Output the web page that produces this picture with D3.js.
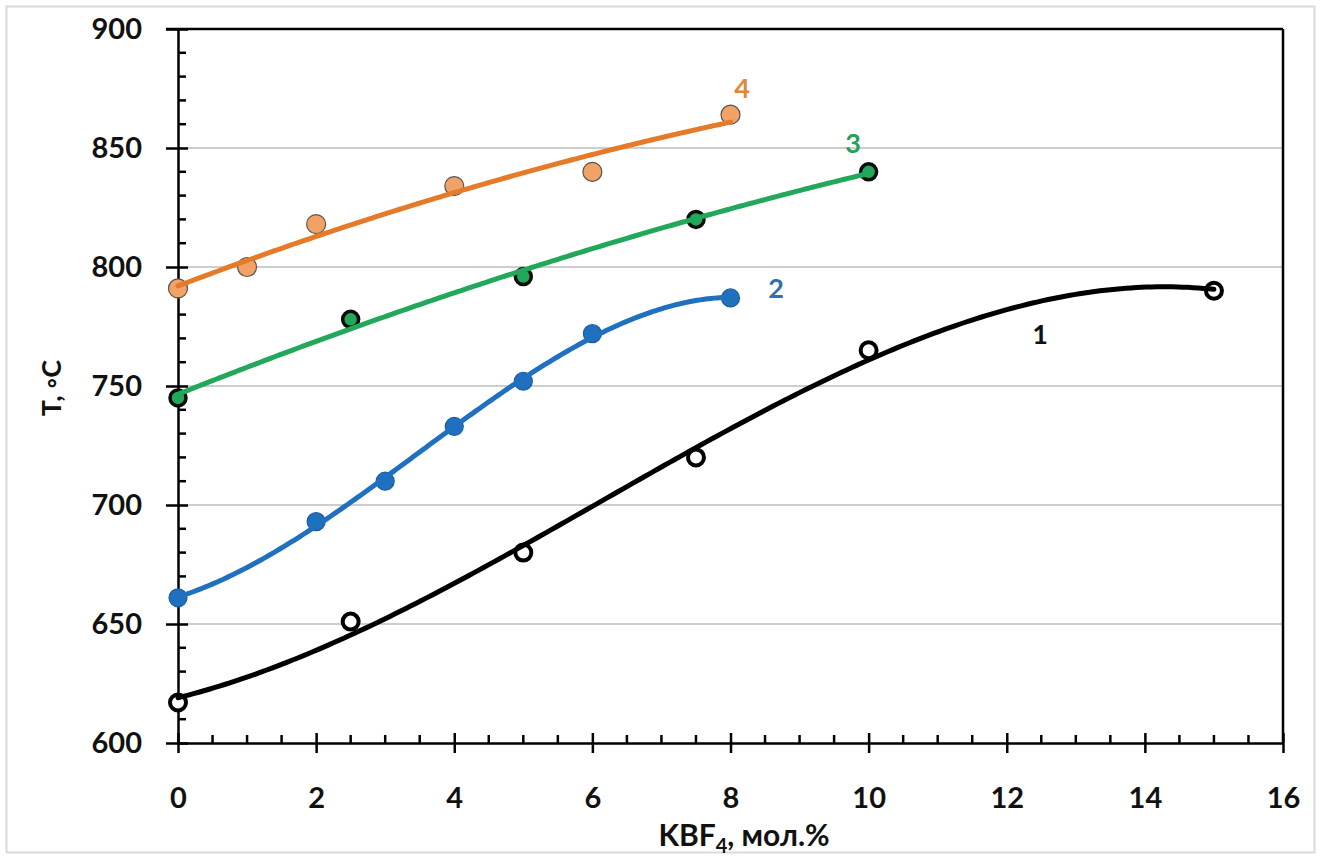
<!DOCTYPE html>
<html>
<head>
<meta charset="utf-8">
<script src="https://cdn.jsdelivr.net/npm/d3@7"></script>
<style>
  html, body { margin: 0; padding: 0; background: #fff; }
  svg { display: block; }
  text { font-family: Lato, "Open Sans", "DejaVu Sans", sans-serif; }
</style>
</head>
<body>
<svg id="chart" width="1322" height="857"></svg>
<script>
// Liquidus temperature vs KBF4 content, four melt compositions
const xSeries1 = [0, 2.5, 5, 7.5, 10, 15];
const tSeries1 = [617, 651, 680, 720, 765, 790];

const xSeries2 = [0, 2, 3, 4, 5, 6, 8];
const tSeries2 = [661, 693, 710, 733, 752, 772, 787];

const xSeries3 = [0, 2.5, 5, 7.5, 10];
const tSeries3 = [745, 778, 796, 820, 840];

const xSeries4 = [0, 1, 2, 4, 6, 8];
const tSeries4 = [791, 800, 818, 834, 840, 864];

const xTicks = [0, 2, 4, 6, 8, 10, 12, 14, 16];
const yTicks = [600, 650, 700, 750, 800, 850, 900];

const series = [
  { id: "1", xs: xSeries1, ts: tSeries1, degree: 3, line: "#000000", fill: "#ffffff", stroke: "#000000", sw: 4, r: 8, label: "#111111", lx: 1040, ly: 334 },
  { id: "2", xs: xSeries2, ts: tSeries2, degree: 3, line: "#1f70bf", fill: "#1f70bf", stroke: "#1a5d9e", sw: 1.2, r: 9, label: "#2e6fae", lx: 776, ly: 288 },
  { id: "3", xs: xSeries3, ts: tSeries3, degree: 2, line: "#22a85a", fill: "#22a85a", stroke: "#0d0d0d", sw: 3.5, r: 8, label: "#22a35b", lx: 853, ly: 143 },
  { id: "4", xs: xSeries4, ts: tSeries4, degree: 2, line: "#e57a28", fill: "#f2a266", stroke: "#555555", sw: 1.2, r: 9.5, label: "#e0883a", lx: 742, ly: 88 }
];

// least-squares polynomial trend line
function polyfit(xs, ys, deg) {
  const n = deg + 1;
  const A = Array.from({ length: n }, () => new Array(n + 1).fill(0));
  for (let i = 0; i < xs.length; i++) {
    for (let r = 0; r < n; r++) {
      for (let c = 0; c < n; c++) A[r][c] += Math.pow(xs[i], r + c);
      A[r][n] += ys[i] * Math.pow(xs[i], r);
    }
  }
  for (let p = 0; p < n; p++) {
    let best = p;
    for (let r = p + 1; r < n; r++) if (Math.abs(A[r][p]) > Math.abs(A[best][p])) best = r;
    [A[p], A[best]] = [A[best], A[p]];
    for (let r = 0; r < n; r++) {
      if (r === p) continue;
      const f = A[r][p] / A[p][p];
      for (let c = p; c <= n; c++) A[r][c] -= f * A[p][c];
    }
  }
  return A.map((row, i) => row[n] / row[i]);
}
const evalPoly = (coef, x) => coef.reduce((s, c, i) => s + c * Math.pow(x, i), 0);

const svg = d3.select("#chart");
const W = 1322, H = 857;
const m = { left: 178, top: 29, right: 1283, bottom: 743 };

// outer frame
svg.append("rect")
  .attr("x", 6.5).attr("y", 6.5).attr("width", W - 14).attr("height", H - 11)
  .attr("fill", "#fff").attr("stroke", "#d9d9d9").attr("stroke-width", 2);

const x = d3.scaleLinear().domain([0, 16]).range([m.left, m.right]);
const y = d3.scaleLinear().domain([600, 900]).range([m.bottom, m.top]);

// horizontal gridlines
svg.append("g")
  .selectAll("line")
  .data(yTicks.slice(1, -1))
  .join("line")
  .attr("x1", m.left).attr("x2", m.right)
  .attr("y1", d => y(d)).attr("y2", d => y(d))
  .attr("stroke", "#bdbdbd").attr("stroke-width", 1.5);

// plot frame (top and right)
svg.append("line").attr("x1", m.left - 12).attr("x2", m.right).attr("y1", m.top).attr("y2", m.top)
  .attr("stroke", "#000").attr("stroke-width", 2.5);
svg.append("line").attr("x1", m.right).attr("x2", m.right).attr("y1", m.top).attr("y2", m.bottom)
  .attr("stroke", "#000").attr("stroke-width", 2.5);

// minor ticks
const yMinor = d3.range(600, 901, 10).filter(v => v % 50 !== 0);
svg.append("g").selectAll("line").data(yMinor).join("line")
  .attr("x1", m.left).attr("x2", m.left + 8)
  .attr("y1", d => y(d)).attr("y2", d => y(d))
  .attr("stroke", "#000").attr("stroke-width", 2.5);
const xMinor = d3.range(0, 16.01, 0.5).filter(v => v % 2 !== 0);
svg.append("g").selectAll("line").data(xMinor).join("line")
  .attr("x1", d => x(d)).attr("x2", d => x(d))
  .attr("y1", m.bottom).attr("y2", m.bottom - 8)
  .attr("stroke", "#000").attr("stroke-width", 2.5);

// axes
const yAxis = svg.append("g")
  .attr("transform", `translate(${m.left},0)`)
  .call(d3.axisLeft(y).tickValues(yTicks).tickSizeInner(12).tickSizeOuter(0).tickPadding(24));
const xAxis = svg.append("g")
  .attr("transform", `translate(0,${m.bottom})`)
  .call(d3.axisBottom(x).tickValues(xTicks).tickSizeInner(10).tickSizeOuter(0).tickPadding(34));
[yAxis, xAxis].forEach(g => {
  g.select(".domain").attr("stroke", "#000").attr("stroke-width", 2.5);
  g.selectAll(".tick line").attr("stroke", "#000").attr("stroke-width", 2.5);
  g.selectAll(".tick text")
    .attr("fill", "#111").attr("font-size", 29).attr("font-weight", 700)
    .style("font-family", "Lato, 'Open Sans', sans-serif");
});
// y major ticks cross the axis
yAxis.selectAll(".tick line").attr("x1", 10);
xAxis.selectAll(".tick line").attr("y1", -10);

// axis titles
svg.append("text")
  .attr("transform", `translate(61,388) rotate(-90)`)
  .attr("text-anchor", "middle")
  .attr("font-size", 27).attr("font-weight", 700).attr("fill", "#111")
  .text("T, \u25E6C");

const xt = svg.append("text")
  .attr("x", 744).attr("y", 846)
  .attr("text-anchor", "middle")
  .attr("font-size", 30).attr("font-weight", 700).attr("fill", "#111");
xt.append("tspan").text("KBF");
xt.append("tspan").attr("font-size", 20).attr("dy", 7).text("4");
xt.append("tspan").attr("dy", -7).text(", мол.%");

// trend lines and markers
const line = d3.line().x(d => x(d[0])).y(d => y(d[1]));
series.forEach(s => {
  const coef = polyfit(s.xs, s.ts, s.degree);
  const x0 = d3.min(s.xs), x1 = d3.max(s.xs);
  s.path = d3.range(0, 201).map(i => {
    const xv = x0 + (x1 - x0) * i / 200;
    return [xv, evalPoly(coef, xv)];
  });
});

series.forEach(s => {
  const g = svg.append("g");
  g.selectAll("circle").data(s.xs.map((xv, i) => [xv, s.ts[i]])).join("circle")
    .attr("cx", d => x(d[0])).attr("cy", d => y(d[1])).attr("r", s.r)
    .attr("fill", s.fill).attr("stroke", s.stroke).attr("stroke-width", s.sw);
  g.append("path").attr("d", line(s.path))
    .attr("fill", "none").attr("stroke", s.line).attr("stroke-width", 5)
    .attr("stroke-linecap", "round");
  g.append("text").attr("x", s.lx).attr("y", s.ly).attr("dy", "0.36em")
    .attr("text-anchor", "middle")
    .attr("font-size", 27).attr("font-weight", 700).attr("fill", s.label)
    .text(s.id);
});
</script>
</body>
</html>
